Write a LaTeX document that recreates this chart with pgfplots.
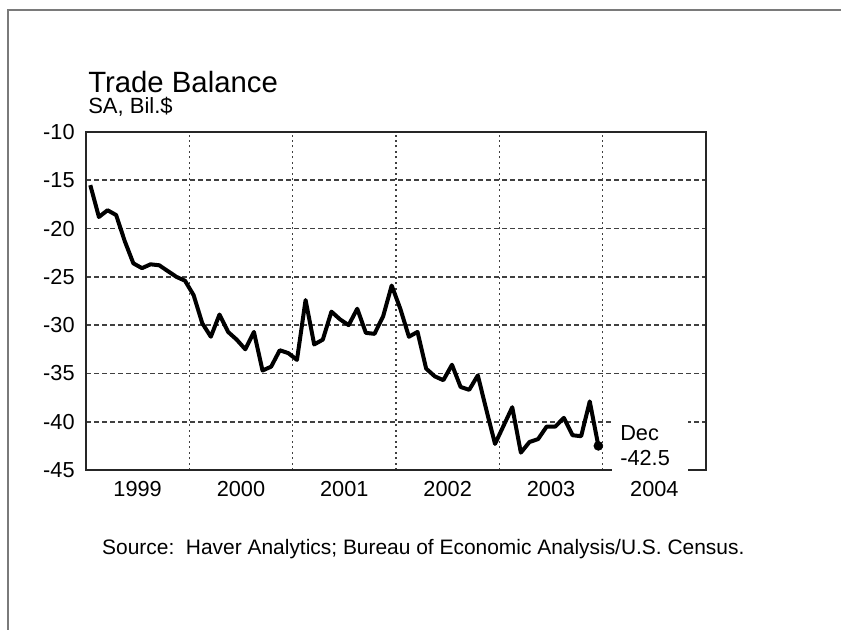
\documentclass[border=0pt]{standalone}
\usepackage{fontspec}
\setmainfont{Liberation Sans}
\usepackage{pgfplots}
\pgfplotsset{compat=1.18}
\definecolor{gridc}{HTML}{404040}
\definecolor{framec}{HTML}{7A7A7A}
\begin{document}
\begin{tikzpicture}
\useasboundingbox (0,0) rectangle (630.75pt,471.75pt);
\draw[framec, line width=1.5pt] (6pt,-10pt) -- (6pt,464.25pt) -- (640pt,464.25pt);
\node[anchor=base west, inner sep=0, font=\fontsize{22}{26}\selectfont] at (66pt,402.5pt) {Trade Balance};
\node[anchor=base west, inner sep=0, font=\fontsize{16.5}{19}\selectfont] at (66pt,386.25pt) {SA, Bil.\$};
\node[inner sep=0, font=\fontsize{15.7}{19}\selectfont] at (317.5pt,60pt) {Source:\ \ Haver Analytics; Bureau of Economic Analysis/U.S. Census.};
\begin{axis}[
  at={(64.5pt,119.25pt)}, anchor=south west,
  width=465pt, height=253.5pt, scale only axis,
  xmin=1999, xmax=2005, ymin=-45, ymax=-10,
  xtick={2000,2001,2002,2003,2004},
  xticklabels={,,,,},
  extra x ticks={1999.5,2000.5,2001.5,2002.5,2003.5,2004.5},
  extra x tick labels={1999,2000,2001,2002,2003,2004},
  extra x tick style={grid=none},
  ytick={-45,-40,-35,-30,-25,-20,-15,-10},
  yticklabels={-45,-40,-35,-30,-25,-20,-15,-10},
  major tick length=0pt,
  grid=major,
  x grid style={dash pattern=on 1.5pt off 2.6pt, line width=1.2pt, gridc},
  y grid style={dash pattern=on 3.6pt off 2.4pt, line width=1.2pt, gridc},
  axis line style={line width=1.3pt, black!85},
  tick label style={font=\fontsize{16.3}{19}\selectfont},
  yticklabel style={xshift=-5pt},
  xticklabel style={yshift=-5pt},
  clip=false,
]
\addplot[black, line width=3pt, line join=round] coordinates {
(1999.0417,-15.5) (1999.1250,-18.8) (1999.2083,-18.1) (1999.2917,-18.6) (1999.3750,-21.3) (1999.4583,-23.6)
(1999.5417,-24.1) (1999.6250,-23.7) (1999.7083,-23.8) (1999.7917,-24.4) (1999.8750,-25.0) (1999.9583,-25.4)
(2000.0417,-26.9) (2000.1250,-29.8) (2000.2083,-31.2) (2000.2917,-28.9) (2000.3750,-30.7) (2000.4583,-31.5)
(2000.5417,-32.5) (2000.6250,-30.7) (2000.7083,-34.7) (2000.7917,-34.3) (2000.8750,-32.6) (2000.9583,-32.9)
(2001.0417,-33.6) (2001.1250,-27.4) (2001.2083,-32.0) (2001.2917,-31.5) (2001.3750,-28.6) (2001.4583,-29.4)
(2001.5417,-30.0) (2001.6250,-28.3) (2001.7083,-30.8) (2001.7917,-30.9) (2001.8750,-29.1) (2001.9583,-25.9)
(2002.0417,-28.3) (2002.1250,-31.2) (2002.2083,-30.7) (2002.2917,-34.5) (2002.3750,-35.3) (2002.4583,-35.7)
(2002.5417,-34.1) (2002.6250,-36.4) (2002.7083,-36.7) (2002.7917,-35.2) (2002.8750,-38.8) (2002.9583,-42.3)
(2003.0417,-40.4) (2003.1250,-38.5) (2003.2083,-43.2) (2003.2917,-42.1) (2003.3750,-41.8) (2003.4583,-40.5)
(2003.5417,-40.5) (2003.6250,-39.6) (2003.7083,-41.4) (2003.7917,-41.5) (2003.8750,-37.9) (2003.9583,-42.5)
};
\addplot[black, only marks, mark=*, mark size=3.4pt] coordinates {(2003.9583,-42.5)};
\fill[white] (axis cs:2004.09,-39.3) rectangle (axis cs:2004.83,-45.5);
\node[anchor=west, inner sep=0, font=\fontsize{16.3}{19}\selectfont] at (axis cs:2004.168,-41.17) {Dec};
\node[anchor=west, inner sep=0, font=\fontsize{16.3}{19}\selectfont] at (axis cs:2004.168,-43.76) {-42.5};
\end{axis}
\end{tikzpicture}
\end{document}
